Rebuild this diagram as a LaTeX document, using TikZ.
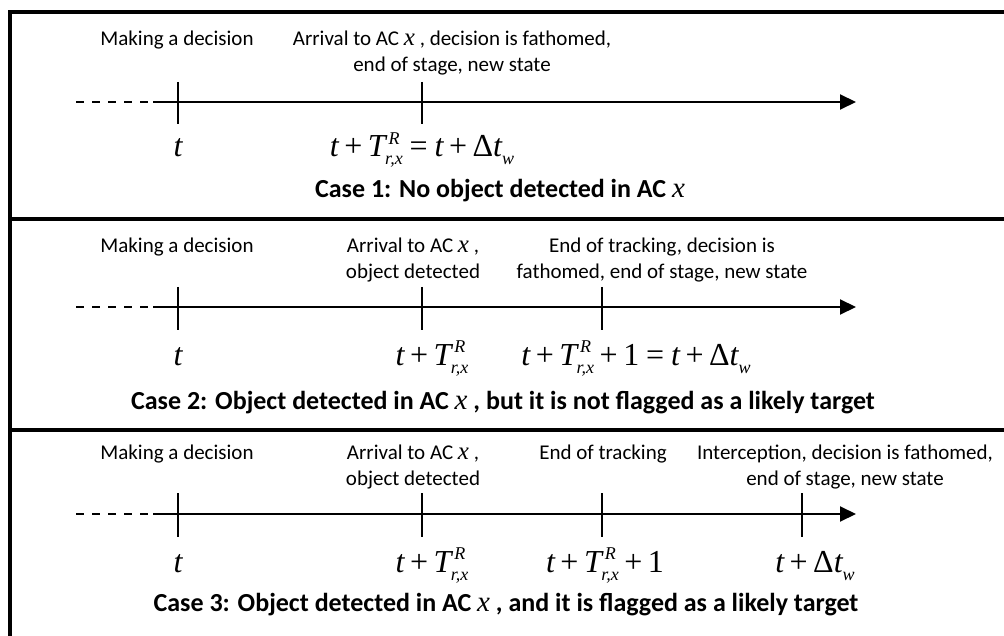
\documentclass[tikz,border=0pt]{standalone}
\usepackage{fontspec}
\setmainfont{Carlito}
\newfontfamily\tnr{Liberation Serif}
\usetikzlibrary{arrows.meta}
\newcommand\mt[1]{\hbox{\tnr\itshape #1}}
\newcommand\mr[1]{\hbox{\tnr #1}}
\newcommand\sm[1]{\hbox{\tnr\itshape\fontsize{18}{18}\selectfont #1}}
\newcommand\smw[1]{\hbox{\tnr\itshape\fontsize{18}{18}\selectfont #1}}
\newcommand\xv{{\tnr\itshape\fontsize{25}{25}\selectfont x}}
\newcommand\xb{{\tnr\mdseries\itshape\fontsize{29}{29}\selectfont x}}
\newcommand\Trx{\mt{T}\rlap{\raisebox{12.5pt}{\kern3pt\sm{R}}}\raisebox{-8pt}{\kern-0.5pt\sm{r,x}}}
\newcommand\Dtw{\mr{Δ}\mt{t}\raisebox{-8pt}{\smw{w}}}
\newcommand\pl{\mathbin{\mr{+}}}
\newcommand\eqs{\mathrel{\mr{=}}}
\begin{document}
\begin{tikzpicture}[x=1pt,y=-1pt,
  frame/.style={line width=4pt},
  axisline/.style={line width=2pt,-{Triangle[length=16pt,width=15pt]}},
  dashpart/.style={line width=2pt,dash pattern=on 8pt off 8pt},
  tickmark/.style={line width=2pt},
  lab/.style={font=\fontsize{21}{26}\selectfont,align=center,inner sep=0pt,anchor=base},
  eqn/.style={font=\fontsize{32}{36}\selectfont\tnr,inner sep=0pt,anchor=base},
  casetext/.style={font=\fontsize{26}{30}\selectfont\bfseries,inner sep=0pt,anchor=base}]
\useasboundingbox (0,0) rectangle (1004,636);
\fill[white] (0,0) rectangle (1004,636);
\begin{scope}
\clip (0,0) rectangle (1004,636);
% frame
\coordinate (tl) at (10,12);
\coordinate (tr) at (1010,12);
\coordinate (bl) at (10,645);
\coordinate (d1l) at (10,219);
\coordinate (d1r) at (1010,219);
\coordinate (d2l) at (10,430);
\coordinate (d2r) at (1010,430);
\draw[frame] (tr) -- (tl) -- (bl);
\draw[frame] (d1l) -- (d1r);
\draw[frame] (d2l) -- (d2r);
\end{scope}

% ===== Panel 1 =====
\coordinate (a1s) at (76,102);
\coordinate (a1m) at (153,102);
\coordinate (a1e) at (856,102);
\draw[dashpart] (a1s) -- (a1m);
\draw[axisline] (a1m) -- (a1e);
\coordinate (p1at) at (178,82); \coordinate (p1ab) at (178,124);
\coordinate (p1bt) at (422,82); \coordinate (p1bb) at (422,124);
\draw[tickmark] (p1at) -- (p1ab);
\draw[tickmark] (p1bt) -- (p1bb);
\node[lab] (l1a) at (177,46) {Making a decision};
\node[lab] (l1b) at (452,72) {Arrival to AC \xv\ , decision is fathomed,\\end of stage, new state};
\node[eqn] (e1a) at (178,157) {$\mt{t}$};
\node[eqn] (e1b) at (422,157) {$\mt{t}\pl\Trx\eqs\mt{t}\pl\Dtw$};
\node[casetext] (c1) at (500,198) {Case 1: No object detected in AC \xb};

% ===== Panel 2 =====
\coordinate (a2s) at (76,307);
\coordinate (a2m) at (153,307);
\coordinate (a2e) at (856,307);
\draw[dashpart] (a2s) -- (a2m);
\draw[axisline] (a2m) -- (a2e);
\coordinate (p2at) at (178,287); \coordinate (p2ab) at (178,330);
\coordinate (p2bt) at (422,287); \coordinate (p2bb) at (422,330);
\coordinate (p2ct) at (602,287); \coordinate (p2cb) at (602,330);
\draw[tickmark] (p2at) -- (p2ab);
\draw[tickmark] (p2bt) -- (p2bb);
\draw[tickmark] (p2ct) -- (p2cb);
\node[lab] (l2a) at (177,253) {Making a decision};
\node[lab] (l2b) at (413,279) {Arrival to AC \xv\ ,\\object detected};
\node[lab] (l2c) at (662,279) {End of tracking, decision is\\fathomed, end of stage, new state};
\node[eqn] (e2a) at (178,365) {$\mt{t}$};
\node[eqn] (e2b) at (432,365) {$\mt{t}\pl\Trx$};
\node[eqn] (e2c) at (636,365) {$\mt{t}\pl\Trx\pl\mr{1}\eqs\mt{t}\pl\Dtw$};
\node[casetext] (c2) at (503,409) {Case 2: Object detected in AC \xb\ , but it is not flagged as a likely target};

% ===== Panel 3 =====
\coordinate (a3s) at (76,514);
\coordinate (a3m) at (153,514);
\coordinate (a3e) at (856,514);
\draw[dashpart] (a3s) -- (a3m);
\draw[axisline] (a3m) -- (a3e);
\coordinate (p3at) at (178,493); \coordinate (p3ab) at (178,537);
\coordinate (p3bt) at (422,493); \coordinate (p3bb) at (422,537);
\coordinate (p3ct) at (602,493); \coordinate (p3cb) at (602,537);
\coordinate (p3dt) at (802,493); \coordinate (p3db) at (802,537);
\draw[tickmark] (p3at) -- (p3ab);
\draw[tickmark] (p3bt) -- (p3bb);
\draw[tickmark] (p3ct) -- (p3cb);
\draw[tickmark] (p3dt) -- (p3db);
\node[lab] (l3a) at (177,459) {Making a decision};
\node[lab] (l3b) at (413,485) {Arrival to AC \xv\ ,\\object detected};
\node[lab] (l3c) at (603,459) {End of tracking};
\node[lab] (l3d) at (845,485) {Interception, decision is fathomed,\\end of stage, new state};
\node[eqn] (e3a) at (178,572) {$\mt{t}$};
\node[eqn] (e3b) at (432,572) {$\mt{t}\pl\Trx$};
\node[eqn] (e3c) at (605,572) {$\mt{t}\pl\Trx\pl\mr{1}$};
\node[eqn] (e3d) at (815,572) {$\mt{t}\pl\Dtw$};
\node[casetext] (c3) at (506,611) {Case 3: Object detected in AC \xb\ , and it is flagged as a likely target};
\end{tikzpicture}
\end{document}
